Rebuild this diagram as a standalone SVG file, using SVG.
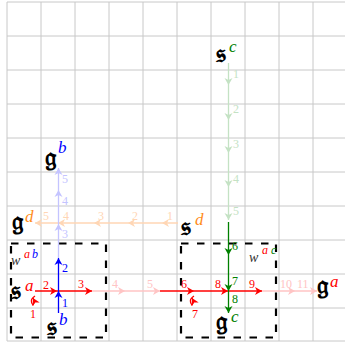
<svg xmlns="http://www.w3.org/2000/svg" width="345" height="345" viewBox="0 0 345 345">
<style>
.grid{stroke:#c8c8c8;stroke-width:1;fill:none}
.box{fill:none;stroke:#000;stroke-width:2.2;stroke-dasharray:7.5 8.5}
.fr{font-family:"DejaVu Sans","DejaVu Serif","Noto Sans",serif;font-size:26px;font-weight:bold;fill:#000}
.sup{font-family:"Liberation Serif","DejaVu Serif",serif;font-style:italic;font-size:17px}
.sm{font-family:"Liberation Serif","DejaVu Serif",serif;font-style:italic;font-size:12px}
.w{font-family:"Liberation Serif","DejaVu Serif",serif;font-style:italic;font-size:14px}
.n{font-family:"Liberation Serif","DejaVu Serif",serif;font-size:12px}
.r{fill:#ff0000}.rf{fill:#ffc4c4}
.b{fill:#0000ff}.bf{fill:#c4c4ff}
.g{fill:#008000}.gf{fill:#c4e2c4}
.o{fill:#ff8c1a}.of{fill:#ffd6b4}
.k{fill:#333}
.lr{stroke:#ff0000}.lrf{stroke:#ffc4c4}
.lb{stroke:#0000ff}.lbf{stroke:#c4c4ff}
.lg{stroke:#008000}.lgf{stroke:#c4e2c4}
.lof{stroke:#ffd6b4}
.ln{fill:none;stroke-width:1.3}
</style>
<defs>
<marker id="mr" viewBox="-8 -5 10 10" refX="0" refY="0" markerWidth="10" markerHeight="10" markerUnits="userSpaceOnUse" orient="auto"><path d="M0 0 L-7 -4 L-5 0 L-7 4 Z" fill="#ff0000"/></marker>
<marker id="mrf" viewBox="-8 -5 10 10" refX="0" refY="0" markerWidth="10" markerHeight="10" markerUnits="userSpaceOnUse" orient="auto"><path d="M0 0 L-7 -4 L-5 0 L-7 4 Z" fill="#ffc4c4"/></marker>
<marker id="mb" viewBox="-8 -5 10 10" refX="0" refY="0" markerWidth="10" markerHeight="10" markerUnits="userSpaceOnUse" orient="auto"><path d="M0 0 L-7 -4 L-5 0 L-7 4 Z" fill="#0000ff"/></marker>
<marker id="mbf" viewBox="-8 -5 10 10" refX="0" refY="0" markerWidth="10" markerHeight="10" markerUnits="userSpaceOnUse" orient="auto"><path d="M0 0 L-7 -4 L-5 0 L-7 4 Z" fill="#c4c4ff"/></marker>
<marker id="mg" viewBox="-8 -5 10 10" refX="0" refY="0" markerWidth="10" markerHeight="10" markerUnits="userSpaceOnUse" orient="auto"><path d="M0 0 L-7 -4 L-5 0 L-7 4 Z" fill="#008000"/></marker>
<marker id="mgf" viewBox="-8 -5 10 10" refX="0" refY="0" markerWidth="10" markerHeight="10" markerUnits="userSpaceOnUse" orient="auto"><path d="M0 0 L-7 -4 L-5 0 L-7 4 Z" fill="#c4e2c4"/></marker>
<marker id="mof" viewBox="-8 -5 10 10" refX="0" refY="0" markerWidth="10" markerHeight="10" markerUnits="userSpaceOnUse" orient="auto"><path d="M0 0 L-7 -4 L-5 0 L-7 4 Z" fill="#ffd6b4"/></marker>
</defs>
<rect width="345" height="345" fill="#fff"/>
<g id="grid" class="grid">
<path d="M7 2V341M41 2V341M75 2V341M109 2V341M143 2V341M177 2V341M211 2V341M245 2V341M279 2V341M313 2V341"/>
<path d="M7 2H345M7 36H345M7 70H345M7 104H345M7 138H345M7 172H345M7 206H345M7 240H345M7 274H345M7 308H345M7 341H345"/>
</g>
<g id="boxes">
<rect class="box" x="11" y="243.5" width="95" height="94"/>
<rect class="box" x="181" y="243.5" width="95" height="94"/>
</g>
<g id="connectors">
<polyline class="ln lof" points="178,223 162,223 128,223 94,223 58,223 35,223" marker-mid="url(#mof)" marker-end="url(#mof)"/>
<polyline class="ln lgf" points="228.5,63 228.5,85 228.5,120 228.5,153 228.5,187 228.5,220" marker-mid="url(#mgf)" marker-end="url(#mgf)"/>
<polyline class="ln lbf" points="58.5,258 58.5,224 58.5,190 58.5,168" marker-mid="url(#mbf)" marker-end="url(#mbf)"/>
<polyline class="ln lr" points="35,291 57,291 92,291" marker-mid="url(#mr)" marker-end="url(#mr)"/>
<polyline class="ln lrf" points="92,291 125,291 160,291" marker-mid="url(#mrf)" marker-end="url(#mrf)"/>
<polyline class="ln lr" points="160,291 194,291 228,291 262,291" marker-mid="url(#mr)" marker-end="url(#mr)"/>
<polyline class="ln lrf" points="262,291 295,291 317,291" marker-mid="url(#mrf)" marker-end="url(#mrf)"/>
<path class="ln lr" d="M35 296 C30 299 31 303 33 305 C35 302 34 300 33 298" marker-end="url(#mr)"/>
<path class="ln lr" d="M194 296 C189 299 190 303 192 305 C194 302 193 300 192 298" marker-end="url(#mr)"/>
<polyline class="ln lb" points="58.5,313 58.5,291 58.5,258" marker-mid="url(#mb)" marker-end="url(#mb)"/>
<polyline class="ln lg" points="228.5,222 228.5,255 228.5,291 228.5,313" marker-mid="url(#mg)" marker-end="url(#mg)"/>
</g>
<g id="labels">
<text class="n r" x="30" y="318">1</text>
<text class="n r" x="43" y="289">2</text>
<text class="n r" x="78" y="288">3</text>
<text class="n rf" x="112" y="288">4</text>
<text class="n rf" x="147" y="288">5</text>
<text class="n r" x="181" y="288">6</text>
<text class="n r" x="192" y="318">7</text>
<text class="n r" x="215" y="288">8</text>
<text class="n r" x="249" y="288">9</text>
<text class="n rf" x="280" y="288">10</text>
<text class="n rf" x="297" y="288">11</text>
<text class="n b" x="62" y="307">1</text>
<text class="n b" x="62" y="272">2</text>
<text class="n bf" x="62" y="238">3</text>
<text class="n bf" x="62" y="205">4</text>
<text class="n bf" x="62" y="183">5</text>
<text class="n gf" x="233" y="78">1</text>
<text class="n gf" x="233" y="113">2</text>
<text class="n gf" x="233" y="148">3</text>
<text class="n gf" x="233" y="183">4</text>
<text class="n gf" x="233" y="215">5</text>
<text class="n g" x="232" y="250">6</text>
<text class="n g" x="232" y="285">7</text>
<text class="n g" x="232" y="303">8</text>
<text class="n of" x="167" y="220">1</text>
<text class="n of" x="132" y="220">2</text>
<text class="n of" x="98" y="220">3</text>
<text class="n of" x="63" y="220">4</text>
<text class="n of" x="43" y="220">5</text>
</g>
<g id="node-sc"><text class="fr" x="216" y="62">𝔰</text><text class="sup g" x="229" y="52">c</text></g>
<g id="node-gb"><text class="fr" x="45" y="166">𝔤</text><text class="sup b" x="58" y="153">b</text></g>
<g id="node-gd"><text class="fr" x="12" y="230">𝔤</text><text class="sup o" x="25" y="222">d</text></g>
<g id="node-sd"><text class="fr" x="181" y="235">𝔰</text><text class="sup o" x="195" y="225">d</text></g>
<g id="node-sa"><text class="fr" x="11" y="299">𝔰</text><text class="sup r" x="25" y="291">a</text></g>
<g id="node-sb"><text class="fr" x="47" y="335">𝔰</text><text class="sup b" x="59" y="325">b</text></g>
<g id="node-wab"><text class="w k" x="11" y="265">w</text><text class="sm r" x="24" y="258">a</text><text class="sm b" x="32" y="258">b</text></g>
<g id="node-wac"><text class="w k" x="249" y="262">w</text><text class="sm r" x="262" y="254">a</text><text class="sm g" x="271" y="254">c</text></g>
<g id="node-gc"><text class="fr" x="216" y="330">𝔤</text><text class="sup g" x="231" y="322">c</text></g>
<g id="node-ga"><text class="fr" x="317" y="294">𝔤</text><text class="sup r" x="330" y="287">a</text></g>
</svg>
